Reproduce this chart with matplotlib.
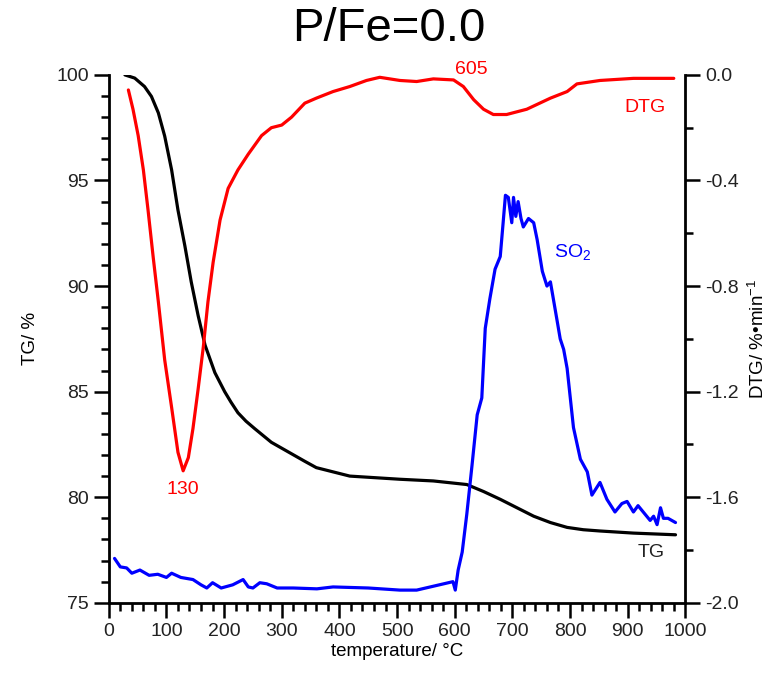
import matplotlib.pyplot as plt
from matplotlib.ticker import MultipleLocator, FormatStrFormatter

plt.rcParams['font.family'] = ['Liberation Sans', 'DejaVu Sans']
plt.rcParams['mathtext.fontset'] = 'custom'
plt.rcParams['mathtext.rm'] = 'Liberation Sans'
plt.rcParams['mathtext.it'] = 'Liberation Sans'
plt.rcParams['lines.solid_joinstyle'] = 'round'
plt.rcParams['lines.solid_capstyle'] = 'round'

# TG curve (left axis, %)
tg_t = [28, 45, 62, 74, 86, 97, 109, 120, 132, 143, 155, 167, 184, 201, 212, 224, 238, 253,
        282, 311, 340, 360, 418, 505, 563, 621, 650, 679, 708, 737, 766, 795, 823, 852,
        910, 983]
tg_v = [100.0, 99.85, 99.45, 98.98, 98.2, 97.1, 95.5, 93.6, 91.9, 90.2, 88.6, 87.2, 85.9,
        85.0, 84.5, 84.0, 83.6, 83.25, 82.6, 82.15, 81.7, 81.4, 81.0, 80.85, 80.77, 80.6,
        80.27, 79.9, 79.5, 79.1, 78.8, 78.57, 78.46, 78.4, 78.3, 78.22]

# DTG curve (right axis, %/min)
dtg_t = [34, 42, 51, 60, 68, 77, 86, 97, 109, 120, 129, 138, 146, 155, 164, 172, 181, 193,
         207, 224, 242, 265, 282, 300, 317, 340, 360, 389, 418, 447, 470, 505, 534, 563,
         598, 615, 633, 650, 667, 690, 725, 766, 795, 812, 852, 910, 980]
dtg_v = [-0.057, -0.13, -0.23, -0.36, -0.51, -0.69, -0.86, -1.08, -1.26, -1.43, -1.50,
         -1.45, -1.34, -1.19, -1.03, -0.86, -0.71, -0.55, -0.43, -0.36, -0.30, -0.23, -0.20,
         -0.19, -0.16, -0.107, -0.088, -0.063, -0.044, -0.021, -0.009, -0.021, -0.025,
         -0.015, -0.019, -0.044, -0.094, -0.13, -0.15, -0.15, -0.13, -0.088, -0.063,
         -0.034, -0.021, -0.013, -0.013]

# SO2 signal (arbitrary units, drawn on the TG scale)
so2_t = [10, 20, 31, 40, 54, 70, 85, 100, 109, 125, 146, 160, 170, 180, 195, 215, 233,
         242, 250, 262, 274, 292, 320, 361, 389, 450, 505, 534, 597, 601, 606, 613, 621,
         630, 639, 647, 653, 661, 670, 679, 684, 688, 693, 699, 702, 706, 710, 715, 719,
         728, 737, 743, 752, 760, 766, 778, 783, 789, 795, 806, 818, 830, 838, 852, 864,
         878, 890, 899, 910, 918, 927, 939, 945, 951, 957, 962, 970, 983]
so2_v = [77.1, 76.7, 76.65, 76.4, 76.55, 76.3, 76.35, 76.2, 76.4, 76.2, 76.1, 75.85, 75.7,
         75.95, 75.7, 75.85, 76.1, 75.75, 75.7, 75.95, 75.9, 75.7, 75.7, 75.66, 75.75,
         75.7, 75.6, 75.6, 76.0, 75.6, 76.55, 77.4, 79.2, 81.5, 83.9, 84.7, 88.0, 89.4,
         90.8, 91.4, 93.0, 94.3, 94.2, 93.0, 94.2, 93.3, 94.0, 93.2, 92.8, 93.2, 93.0,
         92.2, 90.7, 90.0, 90.2, 88.3, 87.5, 87.0, 86.1, 83.3, 81.8, 81.2, 80.1, 80.7,
         79.9, 79.3, 79.7, 79.8, 79.3, 79.6, 79.3, 78.9, 79.1, 78.7, 79.5, 79.0, 79.0, 78.8]

fig = plt.figure(figsize=(7.77, 6.75), dpi=100)
ax = fig.add_axes([0.140, 0.107, 0.742, 0.782])
ax2 = ax.twinx()

ax.plot(tg_t, tg_v, color='black', lw=2.3)
ax.plot(so2_t, so2_v, color='#0000ff', lw=2.3)
ax2.plot(dtg_t, dtg_v, color='#ff0000', lw=2.3)

ax.set_xlim(0, 1000)
ax.set_ylim(75, 100)
ax2.set_ylim(-2.0, 0.0)

ax.xaxis.set_major_locator(MultipleLocator(100))
ax.xaxis.set_minor_locator(MultipleLocator(20))
ax.yaxis.set_major_locator(MultipleLocator(5))
ax.yaxis.set_minor_locator(MultipleLocator(1))
ax2.yaxis.set_major_locator(MultipleLocator(0.4))
ax2.yaxis.set_minor_locator(MultipleLocator(0.2))
ax2.yaxis.set_major_formatter(FormatStrFormatter('%.1f'))

for a in (ax, ax2):
    a.spines['top'].set_visible(False)
    for s in ('left', 'bottom', 'right'):
        a.spines[s].set_linewidth(2.0)
    a.tick_params(which='major', direction='out', length=11, width=1.8, labelsize=14,
                  colors='black', labelcolor='#222222')
    a.tick_params(which='minor', direction='out', length=6, width=1.8)
ax.spines['right'].set_visible(False)
ax2.spines['left'].set_visible(False)
ax2.spines['bottom'].set_visible(False)

ax.set_xlabel('temperature/ °C', fontsize=13.5, labelpad=2)
ax.set_ylabel('TG/ %', fontsize=13.5, labelpad=12)
ax2.set_ylabel('DTG/ %•min$^{-1}$', fontsize=13.5, labelpad=6)

fig.suptitle('P/Fe=0.0', fontsize=34, y=0.99)

ax2.text(128, -1.57, '130', color='#ff0000', fontsize=14, ha='center', va='center')
ax2.text(628, 0.02, '605', color='#ff0000', fontsize=14, ha='center', va='center',
         clip_on=False)
ax2.text(930, -0.125, 'DTG', color='#ff0000', fontsize=14, ha='center', va='center')
ax.text(940, 77.4, 'TG', color='#222222', fontsize=14, ha='center', va='center')
ax.text(804, 91.6, 'SO$_2$', color='#0000ff', fontsize=14, ha='center', va='center')

fig.savefig('out.png', dpi=100)
